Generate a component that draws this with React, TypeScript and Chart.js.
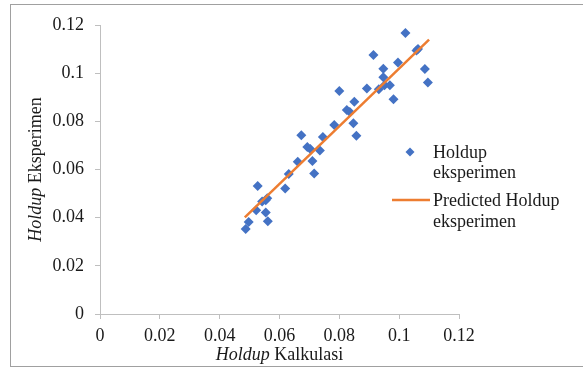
import React, { useEffect, useRef } from "react";
import { Chart, registerables } from "chart.js";

Chart.register(...registerables);

const calcX = [
  0.0487, 0.0497, 0.0522, 0.0527, 0.0542, 0.0554, 0.0559, 0.0554, 0.0561, 0.0619,
  0.0631, 0.0661, 0.0673, 0.0693, 0.0703, 0.0710, 0.0716, 0.0735, 0.0745, 0.0783,
  0.0800, 0.0825, 0.0835, 0.0847, 0.0850, 0.0857, 0.0892, 0.0914, 0.0932, 0.0947,
  0.0947, 0.0951, 0.0969, 0.0981, 0.0996, 0.1021, 0.1058, 0.1063, 0.1086, 0.1096,
];
const expY = [
  0.0353, 0.0382, 0.0431, 0.0532, 0.0467, 0.0472, 0.0481, 0.0421, 0.0385, 0.0521,
  0.0581, 0.0632, 0.0742, 0.0693, 0.0685, 0.0635, 0.0583, 0.0679, 0.0735, 0.0785,
  0.0926, 0.0847, 0.0839, 0.0792, 0.0881, 0.0740, 0.0936, 0.1075, 0.0933, 0.1018,
  0.0983, 0.0950, 0.0950, 0.0892, 0.1044, 0.1167, 0.1094, 0.1100, 0.1017, 0.0961,
];
const predX = [0.0484, 0.11];
const predY = [0.0401, 0.1139];

const seriesNames = ["Holdup eksperimen", "Predicted Holdup eksperimen"];
const xTitle = ["Holdup", " Kalkulasi"];
const yTitle = ["Holdup", " Eksperimen"];

const BLUE = "#4472C4";
const ORANGE = "#ED7D31";
const AXIS = "#bfbfbf";
const FONT = "'Liberation Serif', 'Times New Roman', serif";
const TEXT = "#1a1a1a";

const decorPlugin = {
  id: "decor",
  afterDraw(chart: any) {
    const ctx = chart.ctx as CanvasRenderingContext2D;
    const area = chart.chartArea;
    ctx.save();
    // outer frame (right edge beyond the picture)
    ctx.strokeStyle = "#a0a0a0";
    ctx.lineWidth = 1;
    ctx.strokeRect(10.5, 4.5, 580, 362);

    ctx.fillStyle = TEXT;
    ctx.textBaseline = "middle";
    const it = `italic 18px ${FONT}`;
    const nm = `18px ${FONT}`;
    // x title
    ctx.font = it;
    const w1 = ctx.measureText(xTitle[0]).width;
    ctx.font = nm;
    const w2 = ctx.measureText(xTitle[1]).width;
    const cx = (area.left + area.right) / 2;
    const sx = cx - (w1 + w2) / 2;
    const ty = 355;
    ctx.textAlign = "left";
    ctx.font = it;
    ctx.fillText(xTitle[0], sx, ty);
    ctx.font = nm;
    ctx.fillText(xTitle[1], sx + w1, ty);

    // y title
    ctx.font = it;
    const v1 = ctx.measureText(yTitle[0]).width;
    ctx.font = nm;
    const v2 = ctx.measureText(yTitle[1]).width;
    const cy = (area.top + area.bottom) / 2;
    ctx.save();
    ctx.translate(36, cy);
    ctx.rotate(-Math.PI / 2);
    const s = -(v1 + v2) / 2;
    ctx.font = it;
    ctx.fillText(yTitle[0], s, 0);
    ctx.font = nm;
    ctx.fillText(yTitle[1], s + v1, 0);
    ctx.restore();

    // legend
    ctx.font = nm;
    ctx.fillStyle = BLUE;
    const mx = 410, my = 152, r = 4.5;
    ctx.beginPath();
    ctx.moveTo(mx - r, my);
    ctx.lineTo(mx, my - r);
    ctx.lineTo(mx + r, my);
    ctx.lineTo(mx, my + r);
    ctx.closePath();
    ctx.fill();
    ctx.fillStyle = TEXT;
    ctx.fillText("Holdup", 433, 153);
    ctx.fillText("eksperimen", 433, 173);

    ctx.strokeStyle = ORANGE;
    ctx.lineWidth = 2.5;
    ctx.beginPath();
    ctx.moveTo(392, 200);
    ctx.lineTo(430, 200);
    ctx.stroke();
    ctx.fillText("Predicted Holdup", 433, 201);
    ctx.fillText("eksperimen", 433, 222);
    ctx.restore();
  },
};

export default function App() {
  const ref = useRef<HTMLCanvasElement | null>(null);
  useEffect(() => {
    if (!ref.current) return;
    const scatterData = calcX.map((x, i) => ({ x, y: expY[i] }));
    const lineData = predX.map((x, i) => ({ x, y: predY[i] }));
    const chart = new Chart(ref.current, {
      type: "scatter",
      data: {
        datasets: [
          {
            label: seriesNames[0],
            data: scatterData,
            pointStyle: "rectRot",
            pointRadius: 5,
            pointBackgroundColor: BLUE,
            pointBorderColor: BLUE,
            pointBorderWidth: 0,
            backgroundColor: BLUE,
            order: 2,
          },
          {
            type: "line",
            label: seriesNames[1],
            data: lineData,
            borderColor: ORANGE,
            borderWidth: 2.5,
            pointRadius: 0,
            showLine: true,
            fill: false,
            order: 1,
          } as any,
        ],
      },
      options: {
        responsive: false,
        animation: false,
        layout: { padding: { left: 0, top: 25, right: 124, bottom: 0 } },
        plugins: {
          legend: { display: false },
          tooltip: { enabled: false },
          title: { display: false },
        },
        scales: {
          x: {
            type: "linear",
            min: 0,
            max: 0.12,
            ticks: {
              stepSize: 0.02,
              color: TEXT,
              font: { family: FONT, size: 18 },
              padding: 6,
              callback: (v: any) => String(Number(v.toFixed(2))),
            },
            grid: { drawOnChartArea: false, drawTicks: true, tickLength: 5, color: AXIS },
            border: { color: AXIS },
            afterFit: (s: any) => {
              s.height = 55;
            },
          },
          y: {
            type: "linear",
            min: 0,
            max: 0.12,
            ticks: {
              stepSize: 0.02,
              color: TEXT,
              font: { family: FONT, size: 18 },
              padding: 11,
              callback: (v: any) => String(Number(v.toFixed(2))),
            },
            grid: { drawOnChartArea: false, drawTicks: true, tickLength: 5, color: AXIS },
            border: { color: AXIS },
            afterFit: (s: any) => {
              s.width = 100;
            },
          },
        },
      },
      plugins: [decorPlugin],
    });
    return () => chart.destroy();
  }, []);
  return (
    <div style={{ position: "absolute", left: 0, top: 0, width: 583, height: 369, background: "#fff" }}>
      <canvas ref={ref} width={583} height={369} style={{ display: "block" }} />
    </div>
  );
}
